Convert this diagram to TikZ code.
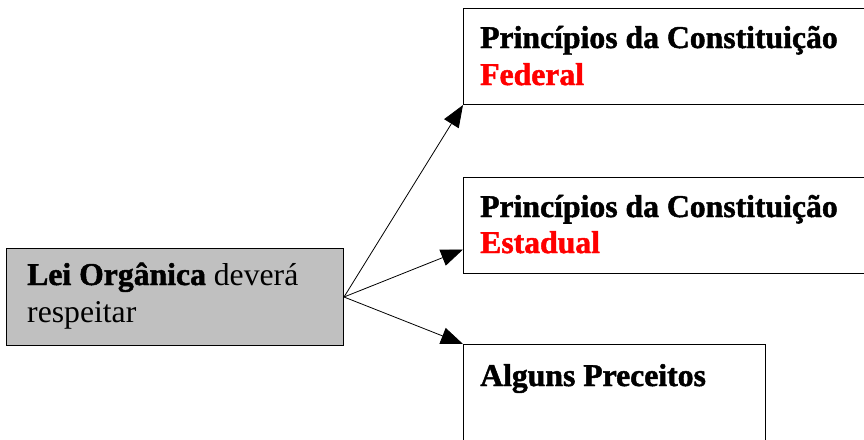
\documentclass[tikz,border=0pt]{standalone}
\usepackage{fontspec}
\setmainfont{Liberation Serif}[BoldFeatures={FakeBold=1.5}]
\usetikzlibrary{arrows.meta}
\definecolor{leigray}{HTML}{C0C0C0}
\definecolor{textred}{HTML}{FF0000}
\begin{document}
\begin{tikzpicture}[x=1pt,y=-1pt,
  box/.style={draw=black, line width=1pt, rectangle, inner sep=0pt, anchor=north west},
  txt/.style={anchor=base west, inner sep=0pt, font=\fontsize{31.7}{37}\selectfont},
  redtxt/.style={txt, text=textred},
  conn/.style={line width=0.8pt, -{Triangle[length=22pt,width=17pt]}}]
\useasboundingbox (0,0) rectangle (864,439);
\node[box, fill=leigray, minimum width=337pt, minimum height=97pt] (lei) at (6,248) {};
\node[box, minimum width=430pt, minimum height=96pt] (fed) at (463,8) {};
\node[box, minimum width=430pt, minimum height=96pt] (est) at (463,177) {};
\node[box, minimum width=302pt, minimum height=120pt] (pre) at (463,344) {};
\node[txt] (t1) at (27,285) {\textbf{Lei Orgânica} deverá};
\node[txt] (t2) at (27,322) {respeitar};
\node[txt] (f1) at (480,48) {\textbf{Princípios da Constituição}};
\node[redtxt] (f2) at (480,85) {\textbf{Federal}};
\node[txt] (e1) at (480,217) {\textbf{Princípios da Constituição}};
\node[redtxt] (e2) at (480,253) {\textbf{Estadual}};
\node[txt] (p1) at (480,386) {\textbf{Alguns Preceitos}};
\draw[conn] (lei.east) -- (fed.south west);
\draw[conn] (lei.east) -- ([yshift=-24pt]est.west);
\draw[conn] (lei.east) -- (pre.north west);
\end{tikzpicture}
\end{document}
